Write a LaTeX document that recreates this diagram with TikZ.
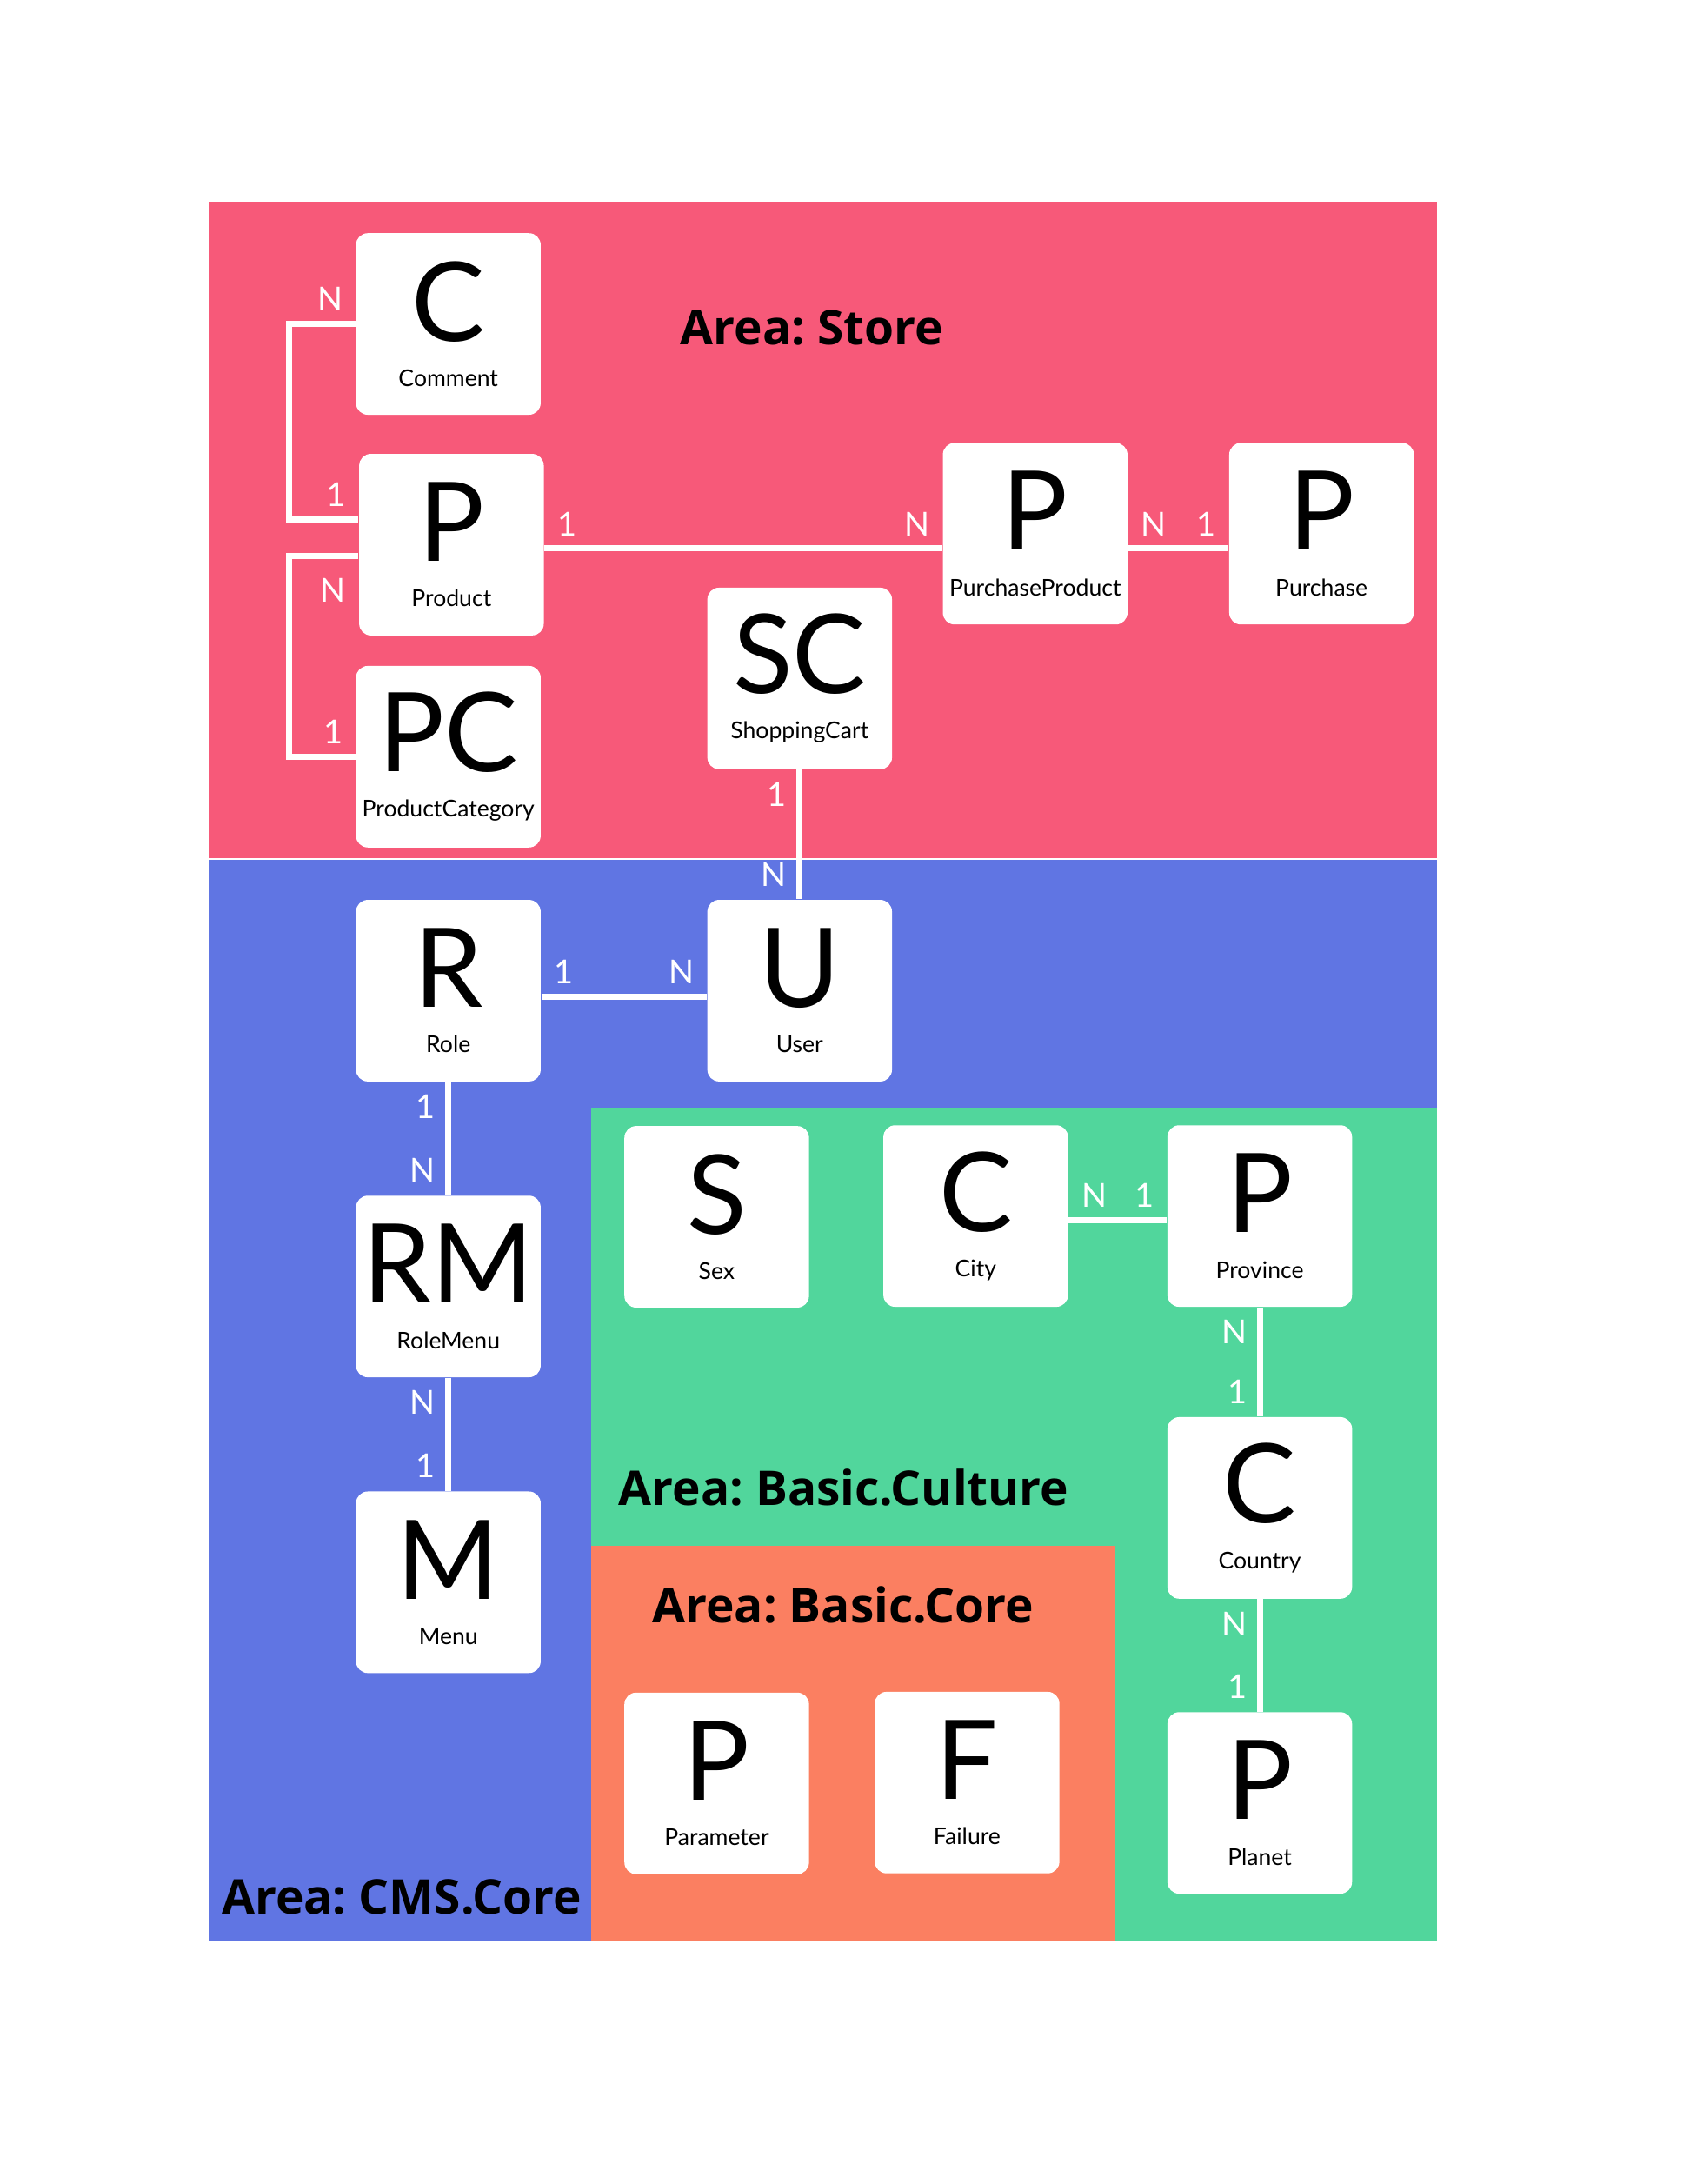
\documentclass[tikz,border=0pt]{standalone}
\usepackage{fontspec}
\setmainfont{Lato}
\newfontfamily\titlefont{Open Sans}
\usetikzlibrary{positioning, calc}
\definecolor{storecolor}{RGB}{247,89,121}
\definecolor{cmscolor}{RGB}{96,117,227}
\definecolor{culturecolor}{RGB}{81,214,156}
\definecolor{corecolor}{RGB}{251,127,97}
\newcommand{\bigletters}[1]{{\fontsize{40}{40}\selectfont #1}}
\frenchspacing

\begin{document}
\begin{tikzpicture}
    % Define styles
    \tikzstyle{entity}=[rectangle, rounded corners=1.5mm, fill=white, minimum width=2.36cm, minimum height=2.32cm, inner sep=0pt, align=center, font=\fontsize{8.4}{16.5}\selectfont]
    \tikzstyle{link}=[draw=white, line width=2.2pt]
    \tikzstyle{mult}=[text=white, inner sep=3.6pt, font=\fontsize{12}{14}\selectfont]
    \tikzstyle{area}=[anchor=base west, inner sep=0pt, font=\titlefont\bfseries\fontsize{17.4}{22}\selectfont]

    % Page
    \fill[white] (0,0) rectangle (21.59,-27.91);
    \useasboundingbox (0,0) rectangle (21.59,-27.91);

    % Areas
    \fill[storecolor] (2.67,-2.58) rectangle (18.37,-10.98);
    \fill[cmscolor] (2.67,-10.98) rectangle (18.37,-24.80);
    \fill[culturecolor] (7.55,-14.15) rectangle (18.37,-24.80);
    \fill[corecolor] (7.55,-19.76) rectangle (14.26,-24.80);
    \draw[white, line width=0.5pt] (2.67,-10.98) -- (18.37,-10.98);

    \node[area] at (8.69,-4.40) (storetitle) {Area: Store};
    \node[area] at (7.90,-19.24) (culturetitle) {Area: Basic.Culture};
    \node[area] at (8.33,-20.74) (coretitle) {Area: Basic.Core};
    \node[area] at (2.83,-24.46) (cmstitle) {Area: CMS.Core};

    % Store
    \node[entity] at (5.73,-4.14) (comment) {\bigletters{C}\\Comment};
    \node[entity] at (5.77,-6.96) (product) {\bigletters{P}\\Product};
    \node[entity] at (5.73,-9.67) (productcategory) {\bigletters{PC}\\ProductCategory};
    \node[entity] at (10.22,-8.67) (shoppingcart) {\bigletters{SC}\\ShoppingCart};
    \node[entity] at (13.23,-6.82) (purchaseproduct) {\bigletters{P}\\PurchaseProduct};
    \node[entity] at (16.89,-6.82) (purchase) {\bigletters{P}\\Purchase};

    % CMS.Core
    \node[entity] at (5.73,-12.66) (role) {\bigletters{R}\\Role};
    \node[entity] at (10.22,-12.66) (user) {\bigletters{U}\\User};
    \node[entity] at (5.73,-16.44) (rolemenu) {\bigletters{RM}\\RoleMenu};
    \node[entity] at (5.73,-20.22) (menu) {\bigletters{M}\\Menu};

    % Basic.Culture
    \node[entity] at (9.16,-15.55) (sex) {\bigletters{S}\\Sex};
    \node[entity] at (12.47,-15.54) (city) {\bigletters{C}\\City};
    \node[entity] at (16.10,-15.54) (province) {\bigletters{P}\\Province};
    \node[entity] at (16.10,-19.27) (country) {\bigletters{C}\\Country};
    \node[entity] at (16.10,-23.04) (planet) {\bigletters{P}\\Planet};

    % Basic.Core
    \node[entity] at (9.16,-22.79) (parameter) {\bigletters{P}\\Parameter};
    \node[entity] at (12.36,-22.78) (failure) {\bigletters{F}\\Failure};

    % Relations
    \draw[link] (comment.west) node[mult, above left] {N} -- ++(-0.85,0) |- ([yshift=0.32cm]product.west) node[mult, above left] {1};
    \draw[link] ([yshift=-0.15cm]product.west) node[mult, below left, yshift=-0.12cm] {N} -- ++(-0.89,0) |- (productcategory.west) node[mult, above left] {1};
    \draw[link] ([yshift=-0.05cm]product.east) node[mult, above right] {1} -- ([yshift=-0.05cm]product.east -| purchaseproduct.west) node[mult, above left] {N};
    \draw[link] ([yshift=-0.05cm]product.east -| purchaseproduct.east) node[mult, above right] {N} -- ([yshift=-0.05cm]product.east -| purchase.west) node[mult, above left] {1};
    \draw[link] (shoppingcart.south) node[mult, below left] {1} -- (user.north) node[mult, above left] {N};
    \draw[link] ([yshift=-0.08cm]role.east) node[mult, above right] {1} -- ([yshift=-0.08cm]role.east -| user.west) node[mult, above left] {N};
    \draw[link] (role.south) node[mult, below left] {1} -- (rolemenu.north) node[mult, above left] {N};
    \draw[link] (rolemenu.south) node[mult, below left] {N} -- (menu.north) node[mult, above left] {1};
    \draw[link] ([yshift=-0.05cm]city.east) node[mult, above right] {N} -- ([yshift=-0.05cm]city.east -| province.west) node[mult, above left] {1};
    \draw[link] (province.south) node[mult, below left] {N} -- (country.north) node[mult, above left] {1};
    \draw[link] (country.south) node[mult, below left] {N} -- (planet.north) node[mult, above left] {1};

\end{tikzpicture}
\end{document}
